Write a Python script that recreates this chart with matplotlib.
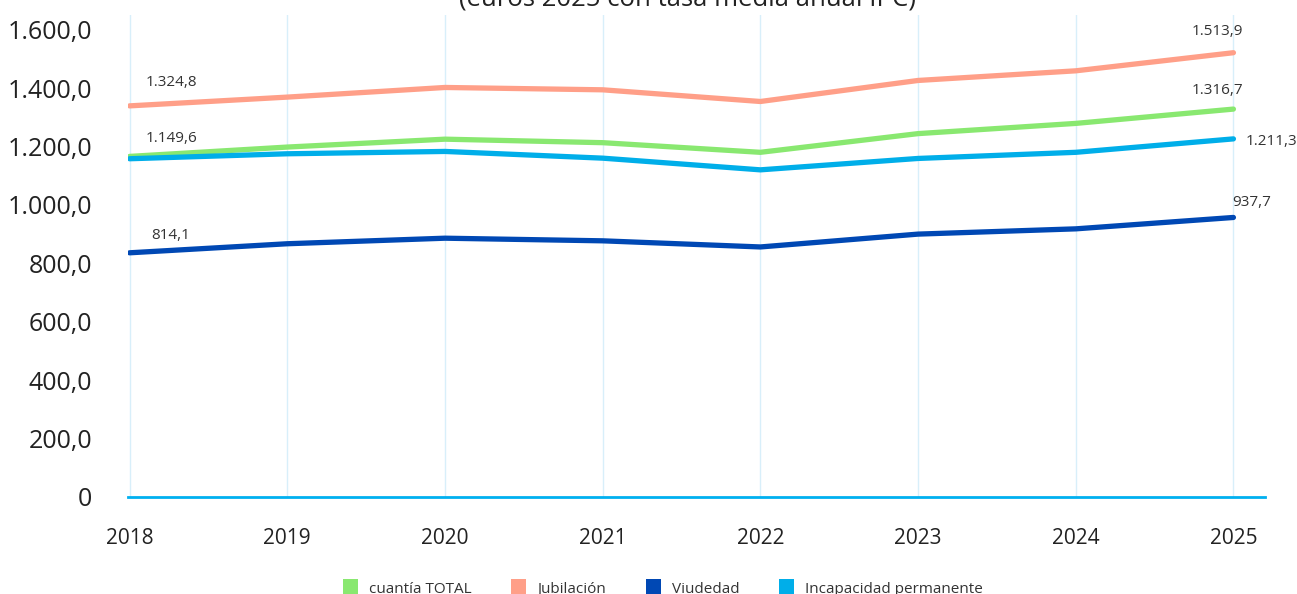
import matplotlib
matplotlib.use("Agg")
import matplotlib.pyplot as plt
from matplotlib.patches import Patch

plt.rcParams['font.family'] = ['Open Sans', 'DejaVu Sans']

# ── datos ───────────────────────────────────────────────────────────────────
years = [2018, 2019, 2020, 2021, 2022, 2023, 2024, 2025]
total = [1166, 1198, 1225, 1213, 1180, 1244, 1279, 1328]
jubilacion = [1339, 1369, 1402, 1394, 1354, 1426, 1459, 1521]
viudedad = [836, 867, 886, 877, 856, 900, 918, 957]
incapacidad = [1158, 1175, 1183, 1160, 1120, 1159, 1180, 1226]

series_names = ["cuantía TOTAL", "Jubilación", "Viudedad", "Incapacidad permanente"]
series_values = [total, jubilacion, viudedad, incapacidad]
colors = ["#89E870", "#FF9F88", "#0048B4", "#00AEE9"]

# etiquetas de dato en el primer y último año
first_labels = ["1.149,6", "1.324,8", "814,1", None]
last_labels = ["1.316,7", "1.513,9", "937,7", "1.211,3"]
first_offsets = [(42, 18), (42, 23), (41, 17), None]
last_offsets = [(-16, 19), (-16, 21), (18, 15), (38, -3)]

title = "(euros 2025 con tasa media anual IPC)"


def fmt_es(v, pos=None):
    if v == 0:
        return "0"
    s = f"{v:,.1f}"
    return s.replace(",", "X").replace(".", ",").replace("X", ".")


fig = plt.figure(figsize=(12.97, 5.94), dpi=100)
ax = fig.add_axes([0.0987, 0.1633, 0.8766, 0.8114])

for name, vals, c in zip(series_names, series_values, colors):
    ax.plot(years, vals, color=c, lw=3.8, solid_capstyle='round',
            solid_joinstyle='round', label=name)

for i, vals in enumerate(series_values):
    if first_labels[i]:
        ax.annotate(first_labels[i], xy=(years[0], vals[0]), xytext=first_offsets[i],
                    textcoords='offset pixels', ha='center', va='center',
                    fontsize=11, color='#333333')
    if last_labels[i]:
        ax.annotate(last_labels[i], xy=(years[-1], vals[-1]), xytext=last_offsets[i],
                    textcoords='offset pixels', ha='center', va='center',
                    fontsize=11, color='#333333', annotation_clip=False)

ax.set_xlim(2017.99, 2025.2)
ax.set_ylim(0, 1650)
ax.set_yticks(range(0, 1601, 200))
ax.yaxis.set_major_formatter(fmt_es)
ax.set_xticks(years)
ax.tick_params(axis='y', length=0, pad=26, labelsize=18, labelcolor='#222222')
ax.tick_params(axis='x', length=0, pad=22, labelsize=15, labelcolor='#222222')

ax.grid(axis='x', color='#D8EFFA', lw=1)
ax.grid(axis='y', visible=False)
for s in ['top', 'right', 'left']:
    ax.spines[s].set_visible(False)
ax.spines['bottom'].set_color('#00B0F0')
ax.spines['bottom'].set_linewidth(2)

# título recortado en el borde superior, como en el original
fig.text(0.530, 0.991, title, ha='center', va='baseline', fontsize=18.5,
         color='#222222')

handles = [Patch(facecolor=c, edgecolor='none') for c in colors]
fig.legend(handles, series_names, loc='upper center', bbox_to_anchor=(0.511, 0.025),
           ncol=4, frameon=False, fontsize=11, handlelength=1.0, handleheight=1.3,
           handletextpad=0.7, columnspacing=2.6, labelcolor='#333333',
           borderaxespad=0, borderpad=0)

fig.savefig("out.png", dpi=100)
